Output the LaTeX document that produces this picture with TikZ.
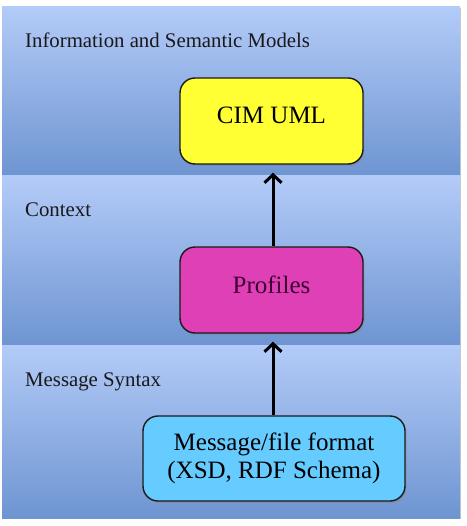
\documentclass[tikz,border=0pt]{standalone}
\usepackage{fontspec}
\setmainfont{Liberation Serif}
\usetikzlibrary{arrows.meta,shadows}
\definecolor{bandtop}{HTML}{B3CBF8}
\definecolor{bandbot}{HTML}{6E95D1}
\definecolor{cimfill}{HTML}{FFFF33}
\definecolor{proffill}{HTML}{E040B6}
\definecolor{proftext}{HTML}{3E0030}
\definecolor{msgfill}{HTML}{66CCFF}
\definecolor{boxline}{HTML}{1A1A1A}
\tikzset{
  band/.style={top color=bandtop, bottom color=bandbot, draw=none,
    drop shadow={shadow xshift=1.2pt, shadow yshift=-1.2pt, opacity=0.35, fill=black!60}},
  bandlabel/.style={anchor=base west, inner sep=0pt, font=\fontsize{20.8}{24}\selectfont, text=black!90},
  layerbox/.style={draw=boxline, line width=1.4pt, rounded corners=15pt,
    drop shadow={shadow xshift=1.5pt, shadow yshift=-2pt, opacity=0.35},
    font=\fontsize{25}{27.5}\selectfont, align=center, inner sep=0pt},
  uparrow/.style={line width=3pt, -{Straight Barb[length=8pt, width=17pt, line width=3pt]}}
}
\begin{document}
\begin{tikzpicture}[x=1pt,y=-1pt]
\useasboundingbox[fill=white] (0,0) rectangle (466,526);
% bands
\shade[band] (2,7) rectangle (460,176);
\shade[band] (2,176) rectangle (460,345);
\shade[band] (2,345) rectangle (460,518);
% labels
\node[bandlabel] (l1) at (25,48) {Information and Semantic Models};
\node[bandlabel] (l2) at (25,217) {Context};
\node[bandlabel] (l3) at (25,386) {Message Syntax};
% boxes
\node[layerbox, fill=cimfill, minimum width=183pt, minimum height=86pt,
  text height=22pt, text depth=16pt] (cim) at (271.5,121) {CIM UML};
\node[layerbox, fill=proffill, text=proftext, minimum width=183pt, minimum height=86pt,
  text height=22pt, text depth=16pt] (prof) at (271.5,290) {Profiles};
\node[layerbox, fill=msgfill, minimum width=262pt, minimum height=85pt] (msg) at (274,458.5)
  {Message/file format\\(XSD, RDF Schema)};
% arrows
\draw[uparrow, shorten >=8pt] (msg.north -| 273,0) -- (prof.south -| 273,0);
\draw[uparrow, shorten >=8pt] (prof.north -| 273,0) -- (cim.south -| 273,0);
\end{tikzpicture}
\end{document}
